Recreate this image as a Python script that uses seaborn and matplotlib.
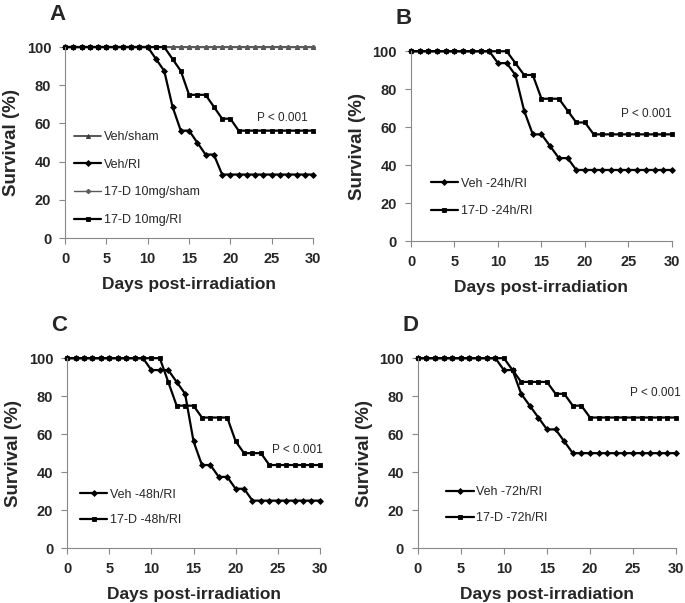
import numpy as np
import pandas as pd
import matplotlib
matplotlib.use("Agg")
import matplotlib.pyplot as plt
import seaborn as sns

# days post-irradiation (x categories)
days = list(range(31))

# Panel A
veh_sham = [100] * 31
veh_ri = [100] * 11 + [93.75, 87.5, 68.75, 56.25, 56.25, 50, 43.75, 43.75] + [33.3] * 12
d17_sham = [100] * 31
d17_ri = [100] * 13 + [93.75, 87.5, 75, 75, 75, 68.75, 62.5, 62.5] + [56.25] * 10

# Panel B
veh_24 = [100] * 10 + [93.75, 93.75, 87.5, 68.75, 56.25, 56.25, 50, 43.75, 43.75] + [37.5] * 12
d17_24 = [100] * 12 + [93.75, 87.5, 87.5, 75, 75, 75, 68.75, 62.5, 62.5] + [56.25] * 10

# Panel C
veh_48 = [100] * 10 + [93.75, 93.75, 93.75, 87.5, 81.25, 56.25, 43.75, 43.75, 37.5, 37.5, 31.25, 31.25] + [25] * 9
d17_48 = [100] * 12 + [87.5, 75, 75, 75, 68.75, 68.75, 68.75, 68.75, 56.25, 50, 50, 50] + [43.75] * 7

# Panel D
veh_72 = [100] * 10 + [93.75, 93.75, 81.25, 75, 68.75, 62.5, 62.5, 56.25] + [50] * 13
d17_72 = [100] * 11 + [93.75, 87.5, 87.5, 87.5, 87.5, 81.25, 81.25, 75, 75] + [68.75] * 11

sns.set_style("ticks")
plt.rcParams['font.family'] = ['Liberation Sans', 'DejaVu Sans']

fig = plt.figure(figsize=(6.85, 6.03), dpi=100)

# letter, axes rect, series, p-value text pos, legend anchor, legend row spacing
panels = [
    ("A", [0.095, 0.605, 0.362, 0.317],
     [("Veh/sham", veh_sham, "^", "#3a3a3a", 1.2),
      ("Veh/RI", veh_ri, "D", "black", 1.6),
      ("17-D 10mg/sham", d17_sham, "P", "#5a5a5a", 1.0),
      ("17-D 10mg/RI", d17_ri, "s", "black", 1.6)],
     (26.3, 63), (0.035, 0.56), 1.25),
    ("B", [0.600, 0.600, 0.381, 0.315],
     [("Veh -24h/RI", veh_24, "D", "black", 1.6),
      ("17-D -24h/RI", d17_24, "s", "black", 1.6)],
     (27.0, 67), (0.075, 0.334), 1.25),
    ("C", [0.098, 0.091, 0.369, 0.315],
     [("Veh -48h/RI", veh_48, "D", "black", 1.6),
      ("17-D -48h/RI", d17_48, "s", "black", 1.6)],
     (27.3, 51.6), (0.05, 0.313), 1.1),
    ("D", [0.610, 0.091, 0.377, 0.315],
     [("Veh -72h/RI", veh_72, "D", "black", 1.6),
      ("17-D -72h/RI", d17_72, "s", "black", 1.6)],
     (27.6, 81.6), (0.11, 0.325), 1.1),
]

for letter, rect, series, ptxt, legpos, lsp in panels:
    ax = fig.add_axes(rect)
    for name, vals, mk, col, lw in series:
        df = pd.DataFrame({"day": days, "surv": vals})
        sns.lineplot(data=df, x="day", y="surv", ax=ax, color=col, lw=lw,
                     marker=mk, markersize=3.0, markeredgewidth=0.6,
                     markeredgecolor=col, label=name, clip_on=False)
    ax.set_xlim(0, 30)
    ax.set_ylim(0, 100)
    ax.set_xticks([0, 5, 10, 15, 20, 25, 30])
    ax.set_yticks([0, 20, 40, 60, 80, 100])
    for lab in ax.get_xticklabels() + ax.get_yticklabels():
        lab.set_fontweight("bold")
        lab.set_fontsize(10.5)
    ax.tick_params(axis="both", direction="out", length=4, width=0.8,
                   color="#888888", pad=6)
    sns.despine(ax=ax)
    for sp in ("left", "bottom"):
        ax.spines[sp].set_color("#888888")
        ax.spines[sp].set_linewidth(0.8)
    ax.set_xlabel("Days post-irradiation", fontsize=12.5, fontweight="bold", labelpad=8)
    ax.set_ylabel("Survival (%)", fontsize=13.5, fontweight="bold", labelpad=5)
    ax.text(ptxt[0], ptxt[1], "P < 0.001", fontsize=8.5, ha="center", va="center")
    ax.legend(loc="upper left", bbox_to_anchor=legpos, frameon=False,
              fontsize=9, handlelength=2.2, handletextpad=0.2,
              labelspacing=lsp, borderpad=0, borderaxespad=0)
    ax.text(-0.03, 1.17, letter, transform=ax.transAxes, fontsize=16,
            fontweight="bold", ha="center", va="center")

fig.savefig("out.png", dpi=100)
